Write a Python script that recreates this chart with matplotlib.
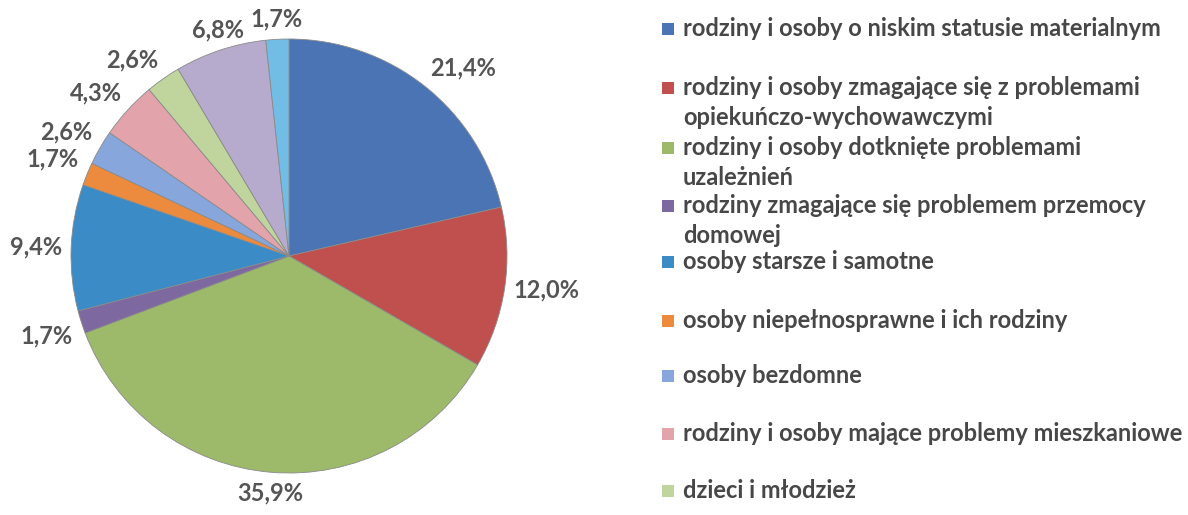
import numpy as np
import matplotlib.pyplot as plt
import matplotlib.patches as mpatches

# ---- Data ----
values = [21.4, 12.0, 35.9, 1.7, 9.4, 1.7, 2.6, 4.3, 2.6, 6.8, 1.7]
categories = [
    "rodziny i osoby o niskim statusie materialnym",
    "rodziny i osoby zmagające się z problemami\nopiekuńczo-wychowawczymi",
    "rodziny i osoby dotknięte problemami\nuzależnień",
    "rodziny zmagające się problemem przemocy\ndomowej",
    "osoby starsze i samotne",
    "osoby niepełnosprawne i ich rodziny",
    "osoby bezdomne",
    "rodziny i osoby mające problemy mieszkaniowe",
    "dzieci i młodzież",
]
colors = ["#4a74b4", "#c0504d", "#9dba6a", "#7d68a0", "#3b8cc6", "#ec8a3e",
          "#86a6dc", "#e3a3aa", "#bfd59d", "#b6aacd", "#72bde6"]
labels = [f"{v:.1f}%".replace(".", ",") for v in values]

plt.rcParams["font.family"] = ["Lato", "DejaVu Sans"]

W, H = 1188, 515
fig = plt.figure(figsize=(W / 100, H / 100), dpi=100)

# ---- Pie ----
cx, cy, pw, ph = 289, 256, 436, 434
ax = fig.add_axes([(cx - pw / 2) / W, 1 - (cy + ph / 2) / H, pw / W, ph / H])
wedges, texts = ax.pie(values, labels=labels, colors=colors, startangle=90,
                       counterclock=False, labeldistance=1.04,
                       wedgeprops=dict(edgecolor="#8a8a8a", linewidth=0.6),
                       textprops=dict(fontsize=17, fontweight="bold", color="#555555"))
ax.set_aspect("auto")
ax.set_xlim(-1, 1)
ax.set_ylim(-1, 1)

# Excel-like "outside end" placement: box grows away from the pie
for w, t in zip(wedges, texts):
    ang = np.deg2rad((w.theta1 + w.theta2) / 2)
    c, s = np.cos(ang), np.sin(ang)
    t.set_position((1.04 * c, 1.04 * s))
    t.set_ha("center" if abs(c) < 0.35 else ("left" if c > 0 else "right"))
    t.set_va("center" if abs(s) < 0.25 else ("bottom" if s > 0 else "top"))

# ---- Legend (Excel style, first 9 series) ----
legend_y = [29, 88, 148, 206, 262, 321, 376, 434, 491]
for i, (name, y) in enumerate(zip(categories, legend_y)):
    fig.patches.append(mpatches.Rectangle((662 / W, 1 - (y + 6) / H), 12 / W, 12 / H,
                                          transform=fig.transFigure, facecolor=colors[i],
                                          edgecolor="none"))
    fig.text(683 / W, 1 - (y - 12) / H, name, ha="left", va="top", fontsize=17,
             fontweight="bold", color="#474747", linespacing=1.37)

fig.savefig("out.png", dpi=100, facecolor="white")
